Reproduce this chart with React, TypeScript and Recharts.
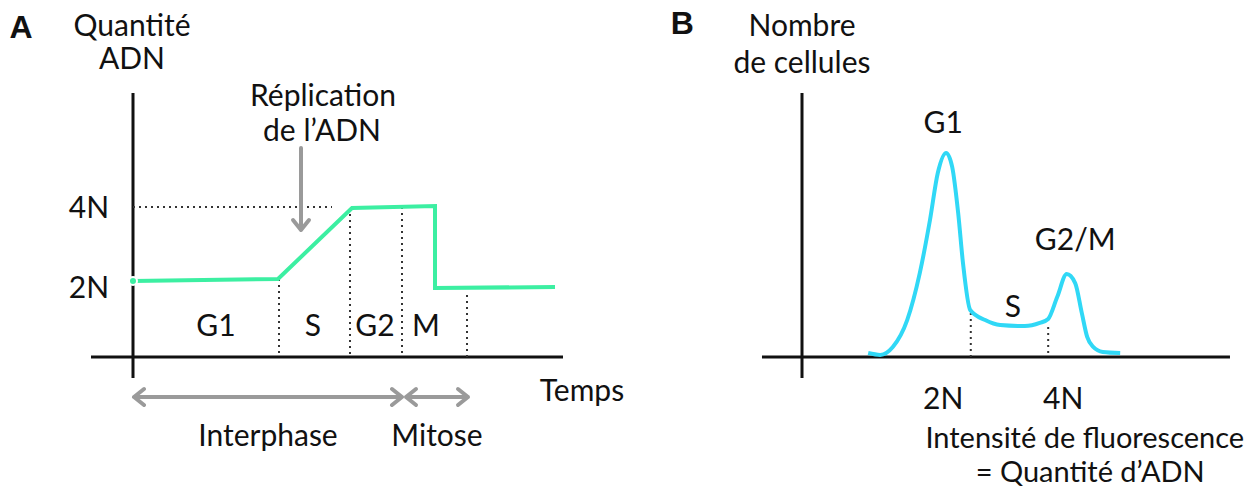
import { LineChart, Line, XAxis, YAxis, ReferenceLine, ReferenceDot } from "recharts"

// Panel A : quantité d'ADN au cours du cycle
const TIME = [0, 14.5, 21.9, 30.2, 30.2, 42.2]
const DNA_AMOUNT = [2.15, 2.2, 3.975, 4.025, 1.975, 2.0]
const PHASES = ["G1", "S", "G2", "M"]
const PHASE_BOUNDS = [14.6, 21.7, 26.9, 33.4]
const PHASE_TOPS = [2.2, 3.975, 4.0, 1.8]
const Y_TICKS_A = [4, 2]

// Panel B : histogramme de cytométrie
const INTENSITY = [0.77, 0.97, 1.18, 1.42, 1.63, 1.8, 1.93, 2.07, 2.17, 2.27, 2.35, 2.47, 2.72, 2.97, 3.38, 3.63, 3.77, 3.92, 4.08, 4.22, 4.33, 4.42, 4.52, 4.68, 4.97]
const CELLS = [1.5, 0.8, 3.8, 14, 31.8, 51.9, 69.7, 77.3, 72, 54.5, 35.6, 17.8, 14, 12.1, 11.7, 12.9, 14.4, 22.7, 31.4, 28, 16.7, 7.6, 3.8, 1.9, 1.5]
const PEAKS_B = ["G1", "S", "G2/M"]
const S_BOUNDS = [2.48, 3.77]
const S_TOPS = [16.7, 11.4]
const X_TICKS_B = [2, 4]

const rowsA = TIME.map((t, i) => ({ t, n: DNA_AMOUNT[i] }))
const rowsB = INTENSITY.map((v, i) => ({ v, c: CELLS[i] }))

const FONT = 'Lato, "Open Sans", sans-serif'
const INK = "#111"
const GREY = "#9a9a9a"
const GREEN = "#3cefa2"
const CYAN = "#30d8f6"

const txt = (value: string, size = 30, bold = false) => ({
  value,
  position: "center" as const,
  fill: INK,
  fontSize: size,
  fontFamily: bold ? '"Liberation Sans", Arial, sans-serif' : FONT,
  fontWeight: bold ? 700 : 400,
})

// line with open chevrons at one or both ends
const arrow = (both: boolean) => (p: any) => {
  const { x1, y1, x2, y2 } = p
  const len = Math.hypot(x2 - x1, y2 - y1) || 1
  const ux = (x2 - x1) / len
  const uy = (y2 - y1) / len
  const h = 10
  const w = 8
  const head = (x: number, y: number, dx: number, dy: number) =>
    `M${x - dx * h - dy * w},${y - dy * h + dx * w} L${x},${y} L${x - dx * h + dy * w},${y - dy * h - dx * w}`
  let d = `M${x1},${y1} L${x2},${y2} ` + head(x2, y2, ux, uy)
  if (both) d += " " + head(x1, y1, -ux, -uy)
  return <path d={d} stroke={GREY} strokeWidth={4} fill="none" strokeLinecap="round" strokeLinejoin="round" />
}

const dotted = { stroke: "#333", strokeWidth: 2, strokeDasharray: "2 4" }

export default function App() {
  const labelsA: [string, number, number][] = [
    ["Quantité", -0.1, 8.55],
    ["ADN", -0.1, 7.725],
    ["Réplication", 19, 6.8],
    ["de l’ADN", 18.9, 5.925],
    ["Temps", 44.9, -0.575],
    ["Interphase", 13.5, -1.7],
    ["Mitose", 30.4, -1.7],
  ]
  const phaseX = [8.3, 18, 24.2, 29.3]
  const peakPos: [number, number][] = [[2.02, 89], [3.18, 19.3], [4.22, 44.7]]
  const labelsB: [string, number, number, number][] = [
    ["Nombre", -0.333, 125.8, 30],
    ["de cellules", -0.333, 111.7, 30],
    ["Intensité de fluorescence", 4.38, -30.7, 29],
    ["= Quantité d’ADN", 4.47, -43.5, 29],
  ]

  return (
    <div style={{ position: "absolute", left: 0, top: 0, width: 1258, height: 495, background: "#fff" }}>
      <div style={{ position: "absolute", left: 0, top: 0 }}>
        <LineChart width={640} height={495} data={rowsA} margin={{ top: 0, right: 0, bottom: 0, left: 0 }}>
          <XAxis type="number" dataKey="t" domain={[-13.3, 50.7]} hide allowDataOverflow />
          <YAxis type="number" domain={[-3.2, 9.175]} hide allowDataOverflow />
          <ReferenceLine segment={[{ x: -4.2, y: 0.25 }, { x: 43, y: 0.25 }]} stroke={INK} strokeWidth={3} ifOverflow="visible" />
          <ReferenceLine segment={[{ x: 0, y: -0.275 }, { x: 0, y: 6.85 }]} stroke={INK} strokeWidth={3} ifOverflow="visible" />
          <ReferenceLine segment={[{ x: 0, y: 4 }, { x: 19.9, y: 4 }]} {...dotted} ifOverflow="visible" />
          {PHASE_BOUNDS.map((b, i) => (
            <ReferenceLine key={"pb" + i} segment={[{ x: b, y: PHASE_TOPS[i] }, { x: b, y: 0.25 }]} {...dotted} ifOverflow="visible" />
          ))}
          <ReferenceLine segment={[{ x: 0.1, y: -0.75 }, { x: 26.9, y: -0.75 }]} shape={arrow(true)} ifOverflow="visible" />
          <ReferenceLine segment={[{ x: 27.3, y: -0.75 }, { x: 33.5, y: -0.75 }]} shape={arrow(true)} ifOverflow="visible" />
          <ReferenceLine segment={[{ x: 16.8, y: 5.475 }, { x: 16.8, y: 3.425 }]} shape={arrow(false)} ifOverflow="visible" />
          <Line dataKey="n" type="linear" stroke={GREEN} strokeWidth={4} dot={false} isAnimationActive={false} />
          <ReferenceDot x={-11.2} y={8.5} r={1} fill="none" stroke="none" label={txt("A", 32, true)} />
          {Y_TICKS_A.map((v) => (
            <ReferenceDot key={"yt" + v} x={-4.4} y={v} r={1} fill="none" stroke="none" label={txt(v + "N")} />
          ))}
          {PHASES.map((p, i) => (
            <ReferenceDot key={p} x={phaseX[i]} y={1.05} r={1} fill="none" stroke="none" label={txt(p)} />
          ))}
          {labelsA.map(([s, x, y]) => (
            <ReferenceDot key={s} x={x} y={y} r={1} fill="none" stroke="none" label={txt(s)} />
          ))}
        </LineChart>
      </div>
      <div style={{ position: "absolute", left: 640, top: 0 }}>
        <LineChart width={618} height={495} data={rowsB} margin={{ top: 0, right: 0, bottom: 0, left: 0 }}>
          <XAxis type="number" dataKey="v" domain={[-3.033, 7.267]} hide allowDataOverflow />
          <YAxis type="number" domain={[-52.27, 135.23]} hide allowDataOverflow />
          <ReferenceLine segment={[{ x: -1, y: 0 }, { x: 6.8, y: 0 }]} stroke={INK} strokeWidth={3} ifOverflow="visible" />
          <ReferenceLine segment={[{ x: -0.333, y: -7.95 }, { x: -0.333, y: 100 }]} stroke={INK} strokeWidth={3} ifOverflow="visible" />
          {S_BOUNDS.map((b, i) => (
            <ReferenceLine key={"sb" + i} segment={[{ x: b, y: S_TOPS[i] }, { x: b, y: 0 }]} {...dotted} ifOverflow="visible" />
          ))}
          <Line dataKey="c" type="monotone" stroke={CYAN} strokeWidth={4} dot={false} isAnimationActive={false} />
          <ReferenceDot x={-2.33} y={126.8} r={1} fill="none" stroke="none" label={txt("B", 32, true)} />
          {X_TICKS_B.map((v) => (
            <ReferenceDot key={"xt" + v} x={v + 0.02} y={-15.5} r={1} fill="none" stroke="none" label={txt(v + "N")} />
          ))}
          {PEAKS_B.map((p, i) => (
            <ReferenceDot key={p} x={peakPos[i][0]} y={peakPos[i][1]} r={1} fill="none" stroke="none" label={txt(p)} />
          ))}
          {labelsB.map(([s, x, y, fs]) => (
            <ReferenceDot key={s} x={x} y={y} r={1} fill="none" stroke="none" label={txt(s, fs)} />
          ))}
        </LineChart>
      </div>
    </div>
  )
}
